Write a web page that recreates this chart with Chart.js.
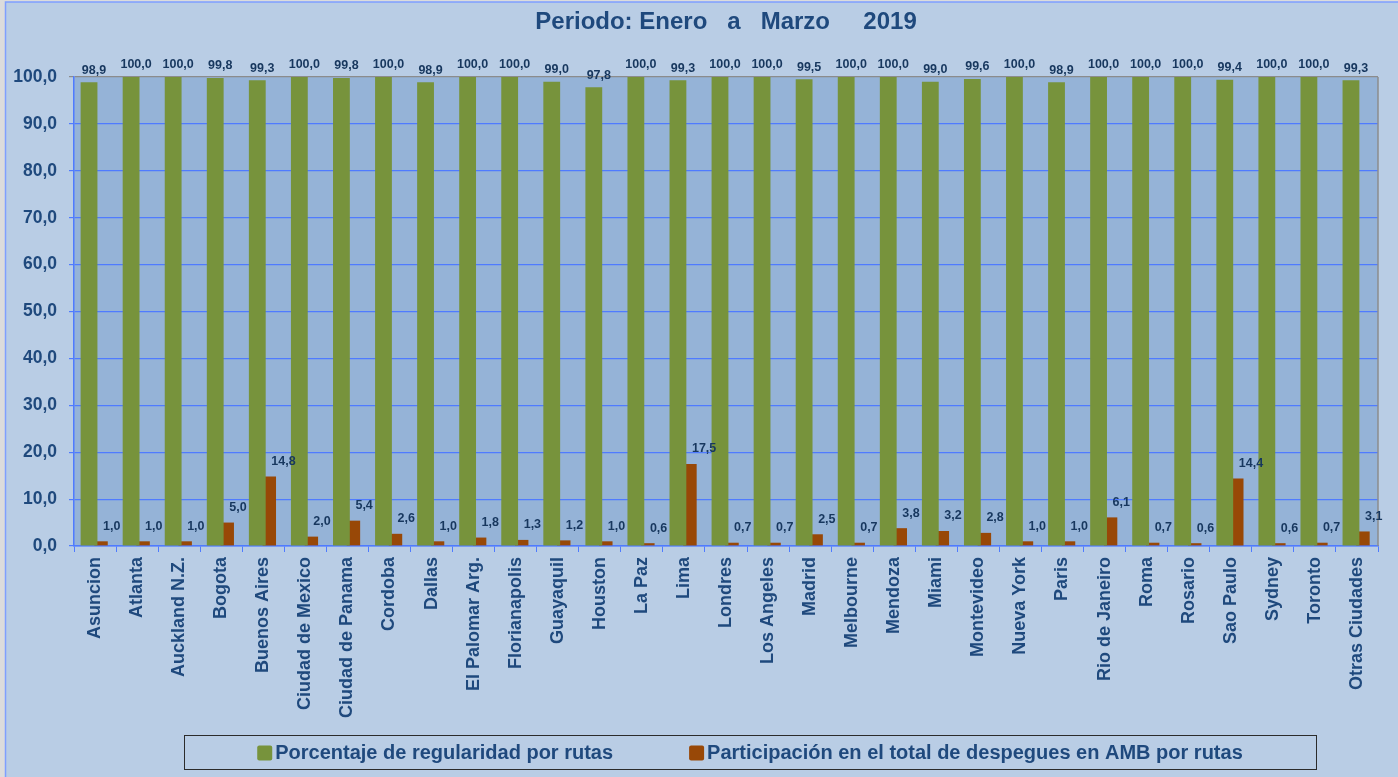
<!DOCTYPE html>
<html>
<head>
<meta charset="utf-8">
<script src="https://cdn.jsdelivr.net/npm/chart.js@4.4.1/dist/chart.umd.min.js"></script>
<style>
  html, body { margin: 0; padding: 0; background: #dcdcdc; }
  #chart { display: block; }
</style>
</head>
<body>
<canvas id="chart" width="1398" height="777"></canvas>
<script>
// datos
const ciudades = [
    'Asuncion', 'Atlanta', 'Auckland N.Z.', 'Bogota', 'Buenos Aires', 'Ciudad de Mexico',
    'Ciudad de Panama', 'Cordoba', 'Dallas', 'El Palomar Arg.', 'Florianapolis', 'Guayaquil',
    'Houston', 'La Paz', 'Lima', 'Londres', 'Los Angeles', 'Madrid', 'Melbourne', 'Mendoza',
    'Miami', 'Montevideo', 'Nueva York', 'Paris', 'Rio de Janeiro', 'Roma', 'Rosario',
    'Sao Paulo', 'Sydney', 'Toronto', 'Otras Ciudades'
];
const regularidad = [
    98.9, 100.0, 100.0, 99.8, 99.3, 100.0, 99.8, 100.0, 98.9, 100.0, 100.0, 99.0,
    97.8, 100.0, 99.3, 100.0, 100.0, 99.5, 100.0, 100.0, 99.0, 99.6, 100.0, 98.9,
    100.0, 100.0, 100.0, 99.4, 100.0, 100.0, 99.3
];
const participacion = [
    1.0, 1.0, 1.0, 5.0, 14.8, 2.0, 5.4, 2.6, 1.0, 1.8, 1.3, 1.2,
    1.0, 0.6, 17.5, 0.7, 0.7, 2.5, 0.7, 3.8, 3.2, 2.8, 1.0, 1.0,
    6.1, 0.7, 0.6, 14.4, 0.6, 0.7, 3.1
];
const serieNombres = [
    'Porcentaje de regularidad por rutas',
    'Participación en el total de despegues en AMB por rutas'
];
const titulo = 'Periodo: Enero   a   Marzo     2019';

const VERDE = '#77933C';
const MARRON = '#984807';
const AZUL_TEXTO = '#1F497D';
const AZUL_LINEA = '#4F7BFF';
const FONT = '"Liberation Sans", Arial, sans-serif';

const fmt = v => v.toFixed(1).replace('.', ',');

// fondo general + fondo del area de trazado
const fondoPlugin = {
    id: 'fondo',
    beforeDraw(chart) {
        const { ctx, chartArea: a, width, height } = chart;
        ctx.save();
        ctx.fillStyle = '#dcdcdc';
        ctx.fillRect(0, 0, width, height);
        ctx.fillStyle = '#B9CDE5';
        ctx.fillRect(5, 2, width - 5, height - 2);
        ctx.strokeStyle = '#7F9FFF';
        ctx.lineWidth = 1.5;
        ctx.beginPath();
        ctx.moveTo(5.5, height);
        ctx.lineTo(5.5, 2);
        ctx.lineTo(width, 2);
        ctx.stroke();
        ctx.fillStyle = '#95B3D7';
        ctx.fillRect(a.left, a.top, a.right - a.left, a.bottom - a.top);
        ctx.restore();
    },
    afterDatasetsDraw(chart) {
        const { ctx, chartArea: a } = chart;
        ctx.save();
        ctx.strokeStyle = '#8C8C8C';
        ctx.lineWidth = 1.5;
        ctx.beginPath();
        ctx.moveTo(a.right, a.top);
        ctx.lineTo(a.right, a.bottom);
        ctx.stroke();
        ctx.restore();
    }
};

// etiquetas de datos
const etiquetasPlugin = {
    id: 'etiquetas',
    afterDatasetsDraw(chart) {
        const ctx = chart.ctx;
        ctx.save();
        ctx.font = 'bold 12.5px ' + FONT;
        ctx.fillStyle = '#17375E';
        ctx.textBaseline = 'middle';
        chart.data.datasets.forEach((ds, i) => {
            const meta = chart.getDatasetMeta(i);
            meta.data.forEach((bar, j) => {
                const txt = fmt(ds.data[j]);
                if (i === 0) {
                    ctx.textAlign = 'center';
                    ctx.fillText(txt, bar.x + 5, bar.y - 12);
                } else {
                    ctx.textAlign = 'left';
                    ctx.fillText(txt, bar.x + 2, bar.y - 15);
                }
            });
        });
        ctx.restore();
    }
};

// leyenda con marco
const leyendaPlugin = {
    id: 'leyendaMarco',
    afterDraw(chart) {
        const ctx = chart.ctx;
        const ds = chart.data.datasets;
        ctx.save();
        ctx.font = 'bold 20px ' + FONT;
        const caja = 15, sep = 3, entre = 76;
        const anchos = ds.map(d => ctx.measureText(d.label).width);
        const total = anchos.reduce((s, w) => s + caja + sep + w, 0) + entre;
        let x = 750 - total / 2;
        const cy = 753;

        ctx.fillStyle = '#B9CDE5';
        ctx.fillRect(x - 73, 735, total + 146, 34);
        ctx.strokeStyle = '#2b2b2b';
        ctx.lineWidth = 1;
        ctx.strokeRect(Math.round(x - 73) + 0.5, 735.5, Math.round(total + 146), 34);

        ctx.textBaseline = 'middle';
        ctx.textAlign = 'left';
        ds.forEach((d, i) => {
            ctx.fillStyle = d.backgroundColor;
            ctx.beginPath();
            ctx.roundRect(x, cy - caja / 2, caja, caja, 2);
            ctx.fill();
            ctx.fillStyle = AZUL_TEXTO;
            ctx.fillText(d.label, x + caja + sep, cy);
            x += caja + sep + anchos[i] + entre;
        });
        ctx.restore();
    }
};

new Chart(document.getElementById('chart'), {
    type: 'bar',
    data: {
        labels: ciudades,
        datasets: [
            {
                label: serieNombres[0],
                data: regularidad,
                backgroundColor: VERDE,
                categoryPercentage: 0.571,
                barPercentage: 1.4,
                order: 0
            },
            {
                label: serieNombres[1],
                data: participacion,
                backgroundColor: MARRON,
                categoryPercentage: 0.571,
                barPercentage: 1.12,
                order: 1
            }
        ]
    },
    options: {
        responsive: false,
        animation: false,
        devicePixelRatio: 1,
        layout: { padding: { left: 0, right: 20, top: 0, bottom: 51 } },
        plugins: {
            legend: { display: false },
            tooltip: { enabled: false },
            title: {
                display: true,
                fullSize: false,
                text: titulo,
                color: AZUL_TEXTO,
                font: { family: FONT, size: 24, weight: 'bold' },
                padding: { top: 8, bottom: 40.2 }
            }
        },
        scales: {
            x: {
                grid: { display: true, drawOnChartArea: false, offset: true, tickLength: 6, color: AZUL_LINEA },
                border: { color: AZUL_LINEA, width: 1.5 },
                ticks: {
                    minRotation: 90, maxRotation: 90, autoSkip: false, padding: 5,
                    color: AZUL_TEXTO,
                    font: { family: FONT, size: 18, weight: 'bold' }
                },
                afterFit(s) { s.height = 180; }
            },
            y: {
                min: 0,
                max: 100,
                ticks: {
                    stepSize: 10, padding: 12,
                    color: AZUL_TEXTO,
                    font: { family: FONT, size: 17.5, weight: 'bold' },
                    callback: v => fmt(v)
                },
                grid: {
                    color: c => c.tick && c.tick.value === 100 ? '#8C8C8C' : AZUL_LINEA,
                    tickLength: 5,
                    lineWidth: 1.2
                },
                border: { color: AZUL_LINEA, width: 1.5 },
                afterFit(s) { s.width = 74; }
            }
        }
    },
    plugins: [fondoPlugin, etiquetasPlugin, leyendaPlugin]
});
</script>
</body>
</html>
